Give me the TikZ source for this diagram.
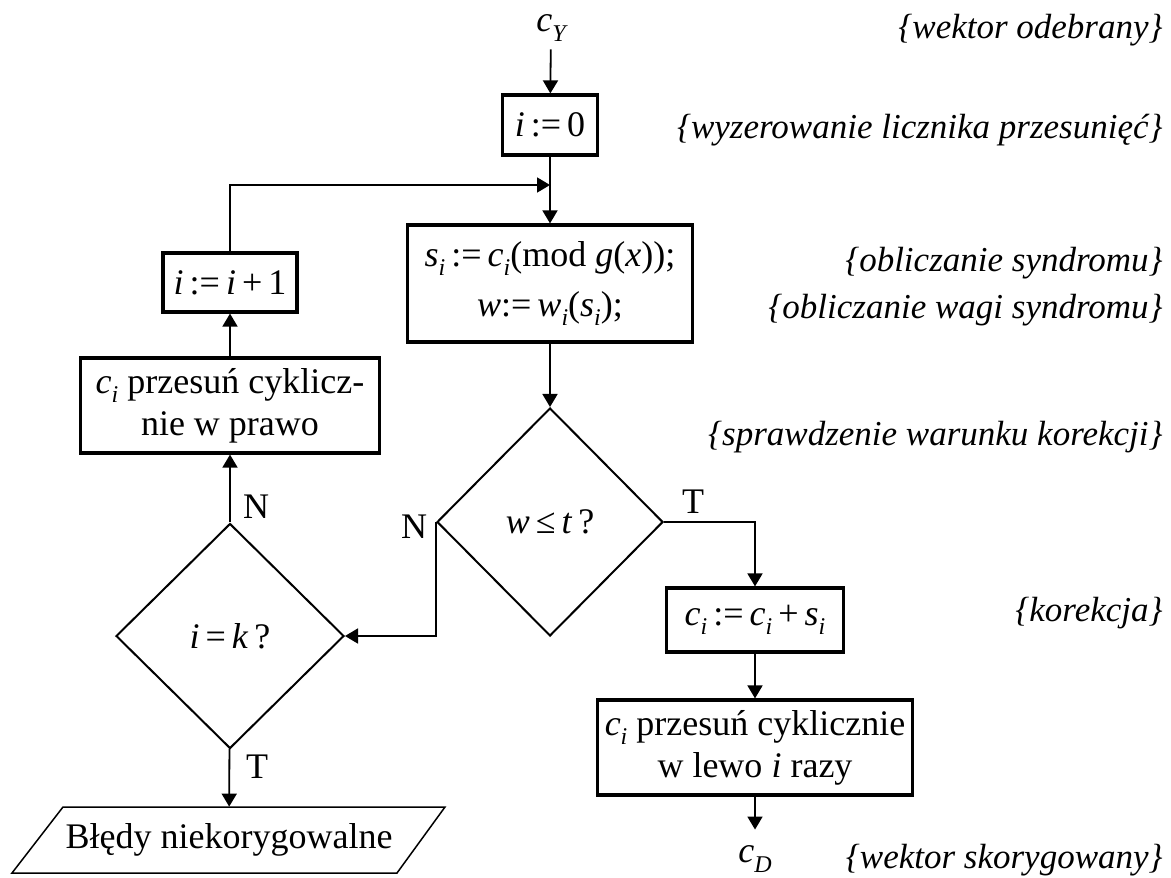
\documentclass[tikz,border=0pt]{standalone}
\usepackage{fontspec}
\setmainfont{Liberation Serif}
\usetikzlibrary{shapes.geometric,arrows.meta,calc}
\newcommand\vi[1]{\textit{#1}}
\newcommand\sbi[1]{\raisebox{-0.55ex}{\fontsize{12}{12}\selectfont\itshape #1}}
\begin{document}
\begin{tikzpicture}[x=0.5pt,y=-0.5pt,
  every node/.style={font=\fontsize{18}{21}\selectfont},
  procbox/.style={draw,line width=1.6pt,rectangle,inner sep=0pt,align=center},
  decision/.style={draw,line width=1pt,diamond,inner sep=0pt},
  arr/.style={line width=0.9pt,-{Triangle[length=6.5pt,width=7.5pt]}},
  note/.style={anchor=east,inner sep=0pt,font=\fontsize{17.5}{21}\selectfont\itshape},
  lbl/.style={inner sep=0pt}]
\useasboundingbox (0,0) rectangle (1171,877);

% main column
\node[inner sep=0pt,inner ysep=4pt] (cY) at (551,28) {\vi{c}\sbi{Y}};
\node[procbox,minimum width=47.5pt,minimum height=30pt] (init) at (550,125) {\vi{i}\,:=\,0};
\node[procbox,minimum width=142.5pt,minimum height=58.5pt] (calc) at (550,283.5)
  {\vi{s}\sbi{i}\,:=\,\vi{c}\sbi{i}(mod \vi{g}(\vi{x}));\\[4pt] \vi{w}:=\,\vi{w}\sbi{i}(\vi{s}\sbi{i});};
\node[decision,minimum width=113pt,minimum height=114pt] (ws) at (550,522) {\vi{w}\,≤\,\vi{t}\,?};
\node[procbox,minimum width=88.5pt,minimum height=32pt] (corr) at (755,620)
  {\vi{c}\sbi{i}\,:=\,\vi{c}\sbi{i}\,+\,\vi{s}\sbi{i}};
\node[procbox,minimum width=157.5pt,minimum height=47.5pt] (shl) at (755,747.5)
  {\vi{c}\sbi{i} przesuń cyklicznie\\w lewo \vi{i} razy};
\node[inner sep=0pt,inner ysep=8pt] (cD) at (755,859) {\vi{c}\sbi{D}};

% left column
\node[decision,minimum width=114pt,minimum height=112.5pt] (ik) at (230,636) {\vi{i}\,=\,\vi{k}\,?};
\node[procbox,minimum width=149.5pt,minimum height=47.5pt] (shr) at (230,405.5)
  {\vi{c}\sbi{i} przesuń cyklicz-\\nie w prawo};
\node[procbox,minimum width=67pt,minimum height=29.5pt] (incr) at (230,282.5) {\vi{i}\,:=\,\vi{i}\,+\,1};
\node[minimum width=150pt,minimum height=33pt,inner sep=0pt] (err) at (229,840) {Błędy niekorygowalne};
\draw[line width=0.75pt] ($(err.center)+(-217,33)$) -- ($(err.center)+(168,33)$)
  -- ($(err.center)+(216,-33)$) -- ($(err.center)+(-166,-33)$) -- cycle;

% connectors
\coordinate (merge) at (550,185);
\draw[arr] (cY) -- (init);
\draw[arr] (init) -- (calc);
\draw[arr] (incr.north) |- (merge);
\draw[arr] (calc) -- (ws);
\draw[arr] (ws.east) -| (corr.north);
\draw[arr] (corr) -- (shl);
\draw[arr] (shl) -- (cD);
\draw[arr] (ws.west) |- (ik.east);
\draw[arr] (ik) -- (shr);
\draw[arr] (shr) -- (incr);
\draw[arr] (ik) -- (err);

% branch labels
\node[lbl] (nA) at (256,507) {N};
\node[lbl] (nB) at (414,527) {N};
\node[lbl] (tA) at (693,502) {T};
\node[lbl] (tB) at (257,767) {T};

% comments
\node[note] (c1) at (1163,30) {\{wektor odebrany\}};
\node[note] (c2) at (1163,130) {\{wyzerowanie licznika przesunięć\}};
\node[note] (c3) at (1163,263) {\{obliczanie syndromu\}};
\node[note] (c4) at (1163,310) {\{obliczanie wagi syndromu\}};
\node[note] (c5) at (1163,437) {\{sprawdzenie warunku korekcji\}};
\node[note] (c6) at (1163,613) {\{korekcja\}};
\node[note] (c7) at (1163,860) {\{wektor skorygowany\}};
\end{tikzpicture}
\end{document}
